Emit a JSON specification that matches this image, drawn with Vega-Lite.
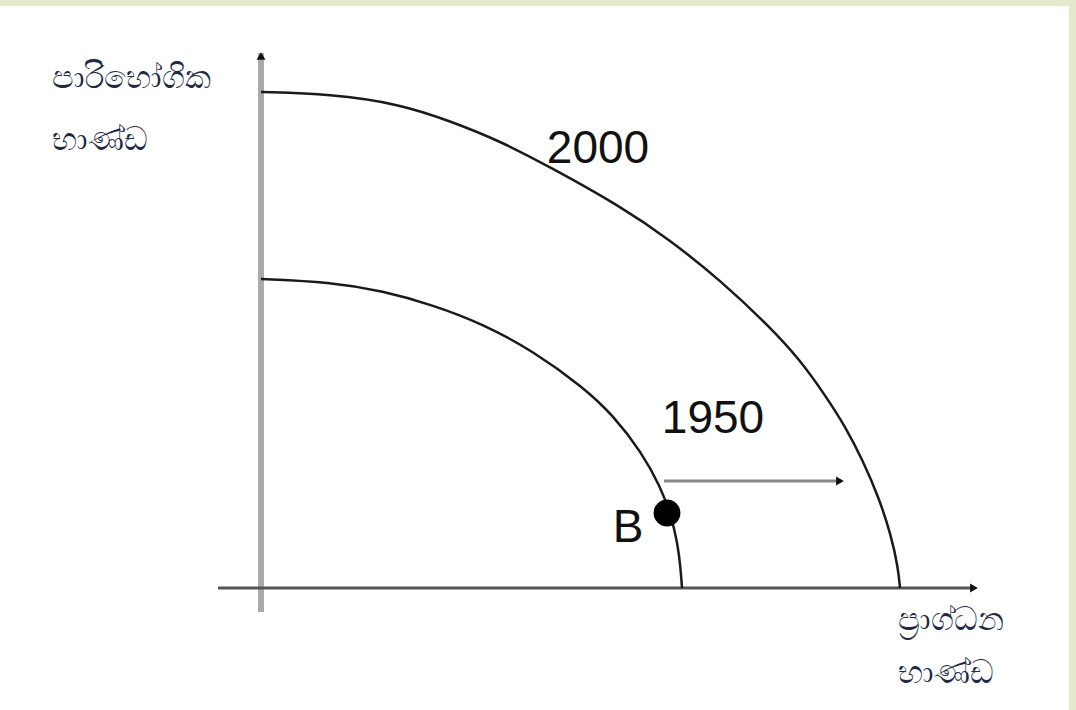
{
  "$schema": "https://vega.github.io/schema/vega-lite/v6.json",
  "width": 1069,
  "height": 704,
  "autosize": {"type": "none"},
  "padding": {"top": 6, "right": 7, "left": 0, "bottom": 0},
  "background": "#e3e9cb",
  "config": {"view": {"fill": "white", "stroke": null}},
  "datasets": {
    "curves": [
      {"year": "2000", "x": 0, "y": 99.2},
      {"year": "2000", "x": 13.8, "y": 98.8},
      {"year": "2000", "x": 27.8, "y": 96.8},
      {"year": "2000", "x": 37.8, "y": 93.4},
      {"year": "2000", "x": 47.8, "y": 89.4},
      {"year": "2000", "x": 57.8, "y": 84.2},
      {"year": "2000", "x": 71.8, "y": 76.4},
      {"year": "2000", "x": 81.8, "y": 69.6},
      {"year": "2000", "x": 91.8, "y": 61.6},
      {"year": "2000", "x": 101.8, "y": 52.2},
      {"year": "2000", "x": 107.8, "y": 45.6},
      {"year": "2000", "x": 112.8, "y": 38.6},
      {"year": "2000", "x": 116.8, "y": 32.4},
      {"year": "2000", "x": 120.4, "y": 25.4},
      {"year": "2000", "x": 123.6, "y": 18.0},
      {"year": "2000", "x": 126.0, "y": 10.6},
      {"year": "2000", "x": 127.4, "y": 4.2},
      {"year": "2000", "x": 127.8, "y": 0},
      {"year": "1950", "x": 0, "y": 61.8},
      {"year": "1950", "x": 13.8, "y": 61.2},
      {"year": "1950", "x": 24.4, "y": 59.4},
      {"year": "1950", "x": 34.4, "y": 56.6},
      {"year": "1950", "x": 44.4, "y": 52.8},
      {"year": "1950", "x": 54.4, "y": 47.4},
      {"year": "1950", "x": 64.4, "y": 40.2},
      {"year": "1950", "x": 70.4, "y": 34.6},
      {"year": "1950", "x": 76.2, "y": 27.0},
      {"year": "1950", "x": 79.8, "y": 20.4},
      {"year": "1950", "x": 82.0, "y": 14.6},
      {"year": "1950", "x": 83.3, "y": 9.0},
      {"year": "1950", "x": 83.9, "y": 4.2},
      {"year": "1950", "x": 84.2, "y": 0}
    ],
    "axes": [
      {"name": "vertical", "x": 0, "x2": 0, "y": -4.8, "y2": 107.0, "c": "#aaaaaa", "w": 6},
      {"name": "horizontal", "x": -8.6, "x2": 142.0, "y": 0, "y2": 0, "c": "#555555", "w": 3},
      {"name": "shift", "x": 80.6, "x2": 115.5, "y": 21.4, "y2": 21.4, "c": "#8a8a8a", "w": 3}
    ],
    "heads": [
      {"name": "vertical", "x": 0, "y": 106.4, "shape": "triangle-up"},
      {"name": "horizontal", "x": 142.6, "y": 0, "shape": "triangle-right"},
      {"name": "shift", "x": 115.8, "y": 21.4, "shape": "triangle-right"}
    ],
    "labels": [
      {"text": "2000", "x": 67.4, "y": 87.8},
      {"text": "1950", "x": 90.4, "y": 33.8},
      {"text": "B", "x": 73.4, "y": 12.0}
    ],
    "titles": [
      {"text": "පාරිභෝගික", "x": -41.8, "y": 102.0},
      {"text": "භාණ්ඩ", "x": -41.8, "y": 89.6},
      {"text": "ප්‍රාග්ධන", "x": 127.4, "y": -6.4},
      {"text": "භාණ්ඩ", "x": 127.4, "y": -17.0}
    ],
    "points": [
      {"name": "B", "x": 81.2, "y": 15.0}
    ]
  },
  "encoding": {
    "x": {"field": "x", "type": "quantitative", "scale": {"domain": [-52.2, 161.6], "nice": false, "zero": false}, "axis": null},
    "y": {"field": "y", "type": "quantitative", "scale": {"domain": [-24.4, 116.4], "nice": false, "zero": false}, "axis": null}
  },
  "layer": [
    {
      "data": {"name": "axes"},
      "mark": {"type": "rule", "strokeCap": "butt"},
      "encoding": {
        "x2": {"field": "x2"},
        "y2": {"field": "y2"},
        "color": {"field": "c", "type": "nominal", "scale": null, "legend": null},
        "strokeWidth": {"field": "w", "type": "quantitative", "scale": null, "legend": null}
      }
    },
    {
      "data": {"name": "heads"},
      "mark": {"type": "point", "filled": true, "color": "#111111", "size": 80, "opacity": 1},
      "encoding": {
        "shape": {"field": "shape", "type": "nominal", "scale": null, "legend": null}
      }
    },
    {
      "data": {"name": "curves"},
      "mark": {"type": "line", "color": "#1a1a1a", "strokeWidth": 2.5, "interpolate": "basis"},
      "encoding": {
        "detail": {"field": "year", "type": "nominal"},
        "order": {"field": "x", "type": "quantitative"}
      }
    },
    {
      "data": {"name": "points"},
      "mark": {"type": "point", "filled": true, "color": "#000000", "size": 720, "opacity": 1, "shape": "circle"}
    },
    {
      "data": {"name": "labels"},
      "mark": {"type": "text", "font": "Liberation Sans", "fontSize": 46, "color": "#111111", "align": "center", "baseline": "middle"},
      "encoding": {"text": {"field": "text"}}
    },
    {
      "data": {"name": "titles"},
      "mark": {"type": "text", "font": "Noto Sans", "fontSize": 32, "color": "#1f2a44", "align": "left", "baseline": "middle"},
      "encoding": {"text": {"field": "text"}}
    }
  ]
}
